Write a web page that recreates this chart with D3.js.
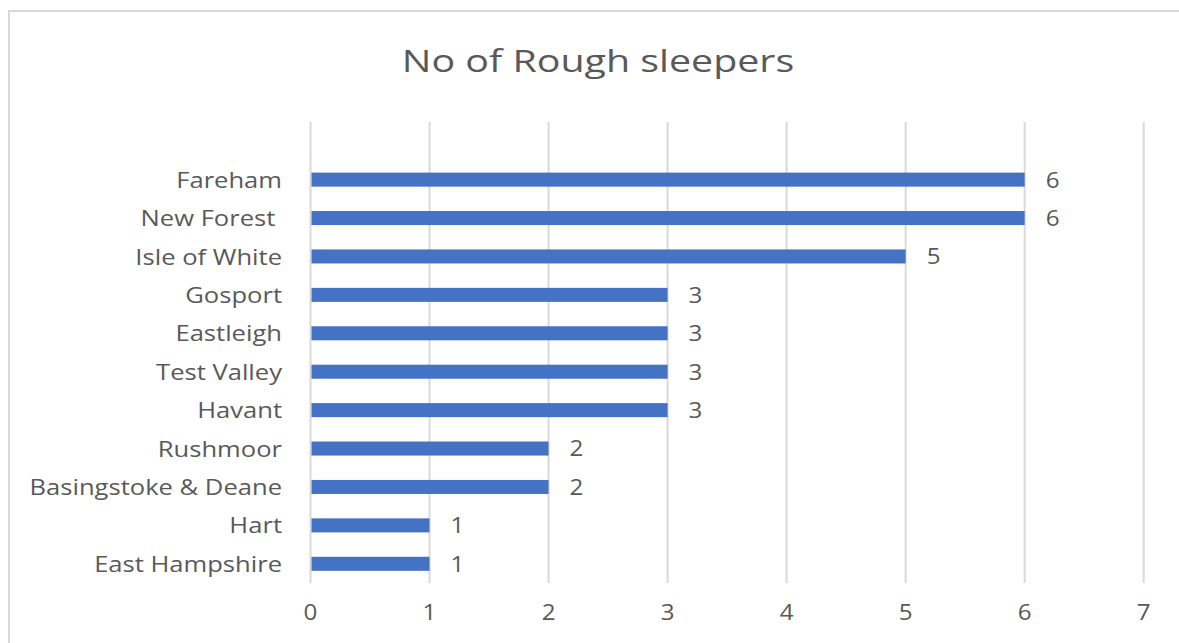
<!DOCTYPE html>
<html>
<head>
<meta charset="utf-8">
<style>
  body { margin: 0; background: #fff; }
  svg { display: block; font-family: "Open Sans", sans-serif; }
  .grid line { stroke: #d9d9d9; stroke-width: 2; }
  .lbl { fill: #595959; white-space: pre; }
</style>
</head>
<body>
<div id="chart"></div>
<script src="https://cdn.jsdelivr.net/npm/d3@7"></script>
<script>
// data, top to bottom as shown
var categories = ["Fareham", "New Forest ", "Isle of White", "Gosport", "Eastleigh", "Test Valley",
  "Havant", "Rushmoor", "Basingstoke & Deane", "Hart", "East Hampshire"];
var values = [6, 6, 5, 3, 3, 3, 3, 2, 2, 1, 1];
var xTicks = [0, 1, 2, 3, 4, 5, 6, 7];
var title = "No of Rough sleepers";

var W = 1179, H = 643;
var plot = { left: 310.5, right: 1143.7, top: 122, bottom: 583 };

var svg = d3.select("#chart").append("svg")
  .attr("width", W)
  .attr("height", H);

// chart frame
svg.append("rect")
  .attr("x", 9).attr("y", 11)
  .attr("width", W + 10).attr("height", H + 10)
  .attr("fill", "#fff")
  .attr("stroke", "#d9d9d9")
  .attr("stroke-width", 2);

var x = d3.scaleLinear()
  .domain([0, 7])
  .range([plot.left, plot.right]);

// 12 slots in the plot, the top one is empty
var slot = (plot.bottom - plot.top) / 12;
var y = d3.scaleBand()
  .domain(categories)
  .range([plot.top + slot, plot.bottom])
  .paddingInner(0.635)
  .paddingOuter(0.3175);

// vertical gridlines
svg.append("g")
  .attr("class", "grid")
  .selectAll("line")
  .data(xTicks)
  .join("line")
  .attr("x1", function(d) { return x(d); })
  .attr("x2", function(d) { return x(d); })
  .attr("y1", plot.top)
  .attr("y2", plot.bottom);

// bars
svg.append("g")
  .selectAll("rect")
  .data(values)
  .join("rect")
  .attr("x", x(0) + 1)
  .attr("y", function(d, i) { return y(categories[i]); })
  .attr("width", function(d) { return x(d) - x(0) - 1; })
  .attr("height", y.bandwidth())
  .attr("fill", "#4472c4");

// value labels
svg.append("g")
  .selectAll("text")
  .data(values)
  .join("text")
  .attr("class", "lbl")
  .attr("transform", function(d, i) {
    return "translate(" + (x(d) + 21) + "," + (y(categories[i]) + y.bandwidth() / 2) + ") scale(1.1,1)";
  })
  .attr("dy", "0.36em")
  .style("font-size", "22px")
  .text(function(d) { return d; });

// category labels (source text is a little wide, so stretch horizontally)
svg.append("g")
  .selectAll("text")
  .data(categories)
  .join("text")
  .attr("class", "lbl")
  .attr("transform", function(d) {
    return "translate(282," + (y(d) + y.bandwidth() / 2) + ") scale(1.137,1)";
  })
  .attr("dy", "0.36em")
  .attr("text-anchor", "end")
  .style("font-size", "22.5px")
  .text(function(d) { return d; });

// x tick labels
svg.append("g")
  .selectAll("text")
  .data(xTicks)
  .join("text")
  .attr("class", "lbl")
  .attr("transform", function(d) { return "translate(" + x(d) + ",612) scale(1.1,1)"; })
  .attr("dy", "0.36em")
  .attr("text-anchor", "middle")
  .style("font-size", "22px")
  .text(function(d) { return d; });

// title
svg.append("text")
  .attr("class", "lbl")
  .attr("transform", "translate(598,72) scale(1.27,1)")
  .attr("text-anchor", "middle")
  .style("font-size", "31px")
  .text(title);
</script>
</body>
</html>
